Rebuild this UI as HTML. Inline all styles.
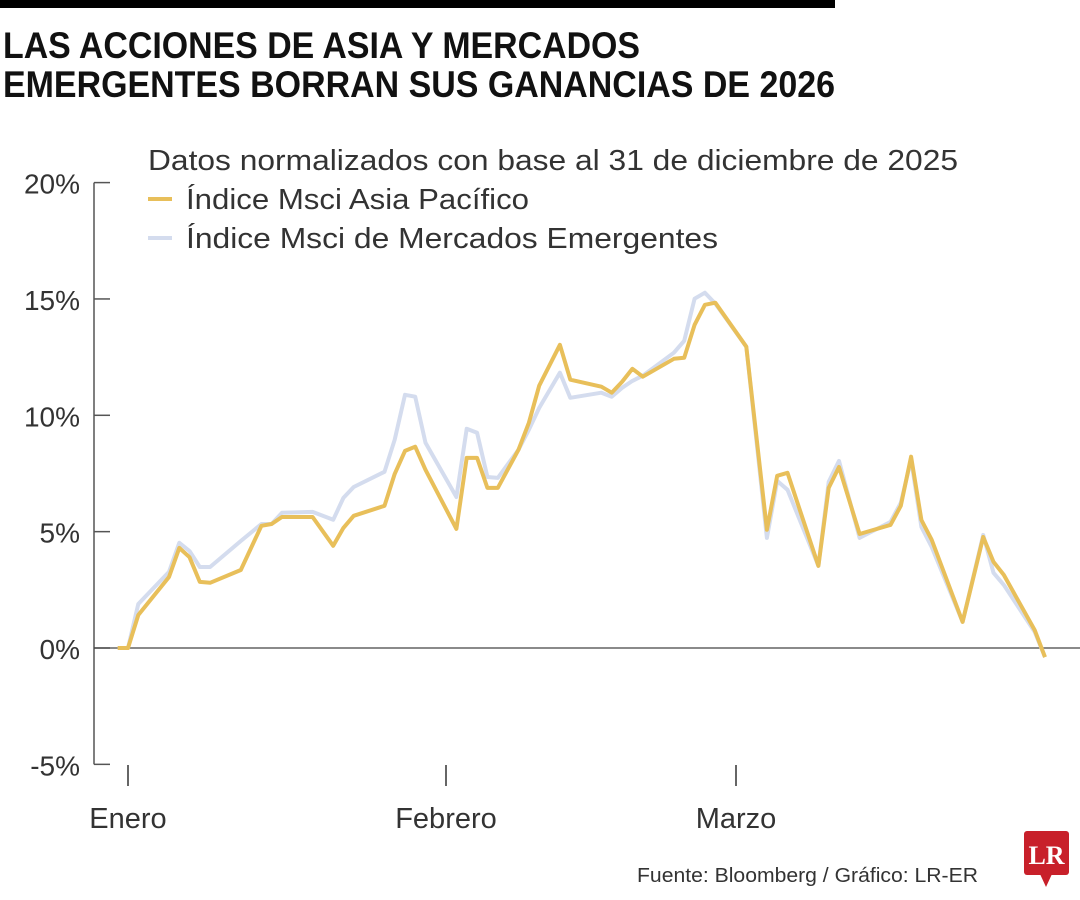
<!DOCTYPE html>
<html><head><meta charset="utf-8"><style>
html,body{margin:0;padding:0;background:#fff;}
svg{display:block;font-family:"Liberation Sans",sans-serif;}
</style></head><body>
<svg id="chart" width="1080" height="900" viewBox="0 0 1080 900">
<rect x="0" y="0" width="835" height="8" fill="#000"/>
<text x="3" y="58" font-size="37" font-weight="bold" fill="#111" textLength="637" lengthAdjust="spacingAndGlyphs">LAS ACCIONES DE ASIA Y MERCADOS</text>
<text x="3" y="97" font-size="37" font-weight="bold" fill="#111" textLength="832" lengthAdjust="spacingAndGlyphs">EMERGENTES BORRAN SUS GANANCIAS DE 2026</text>
<text x="148" y="170" font-size="29" fill="#333" textLength="810" lengthAdjust="spacingAndGlyphs">Datos normalizados con base al 31 de diciembre de 2025</text>
<line x1="148" y1="199" x2="172" y2="199" stroke="#e8bf5a" stroke-width="4"/>
<text x="186" y="209" font-size="29" fill="#333" textLength="343" lengthAdjust="spacingAndGlyphs">Índice Msci Asia Pacífico</text>
<line x1="148" y1="238" x2="172" y2="238" stroke="#d4dcee" stroke-width="4"/>
<text x="186" y="248" font-size="29" fill="#333" textLength="532" lengthAdjust="spacingAndGlyphs">Índice Msci de Mercados Emergentes</text>
<g id="axes"></g>
<g id="series"></g>
<text x="637" y="882" font-size="20" fill="#333" textLength="341" lengthAdjust="spacingAndGlyphs">Fuente: Bloomberg / Gráfico: LR-ER</text>
<g>
<rect x="1024" y="831" width="45" height="44" rx="3" fill="#c8202a"/>
<polygon points="1040,874 1052,874 1046,887" fill="#c8202a"/>
<text x="1046.5" y="864" font-size="26" font-weight="bold" fill="#fff" text-anchor="middle" font-family="Liberation Serif,serif">LR</text>
</g>
</svg>
<script>
const dates = [-1,0,1,4,5,6,7,8,11,13,14,15,18,20,21,22,25,26,27,28,29,32,33,34,35,36,38,39,40,42,43,46,47,48,49,50,53,54,55,56,57,60,62,63,64,67,68,69,71,74,75,76,77,78,81,83,84,85,88,89];
const asiaPacifico = [0,0,1.42,3.05,4.3,3.9,2.84,2.8,3.35,5.25,5.33,5.63,5.63,4.39,5.16,5.68,6.11,7.48,8.47,8.65,7.66,5.12,8.17,8.17,6.88,6.88,8.52,9.68,11.27,13.03,11.53,11.23,10.97,11.44,12.0,11.66,12.43,12.47,13.89,14.75,14.84,12.95,5.08,7.4,7.53,3.53,6.88,7.78,4.9,5.29,6.11,8.22,5.5,4.65,1.12,4.77,3.7,3.14,0.77,-0.39];
const emergentes = [0,0,1.89,3.27,4.52,4.17,3.48,3.48,4.6,5.33,5.33,5.81,5.85,5.51,6.45,6.92,7.57,8.95,10.88,10.8,8.82,6.49,9.42,9.25,7.35,7.31,8.52,9.38,10.32,11.83,10.75,10.97,10.8,11.18,11.48,11.7,12.69,13.2,15.01,15.27,14.8,12.95,4.73,7.18,6.8,3.53,7.14,8.04,4.73,5.42,6.24,8.09,5.2,4.34,1.12,4.86,3.23,2.71,0.69,-0.39];
const yTicks = [20,15,10,5,0,-5];
const yTickLabels = ["20%","15%","10%","5%","0%","-5%"];
const monthDays = [0,31,59];
const monthLabels = ["Enero","Febrero","Marzo"];

const NS="http://www.w3.org/2000/svg";
function x(d){ return d<=31 ? 128+d*(318/31) : (d<=59 ? 446+(d-31)*(290/28) : 736+(d-59)*10.3); }
function y(v){ return 648-v*23.27; }
function mk(tag,attrs,parent){const e=document.createElementNS(NS,tag);for(const k in attrs)e.setAttribute(k,attrs[k]);parent.appendChild(e);return e;}
const axes=document.getElementById('axes');
let el=mk('line',{x1:94,y1:y(20),x2:94,y2:y(-5),stroke:'#555','stroke-width':1.5},axes);


yTicks.forEach((t,i)=>{
  const tk=mk('line',{x1:94,y1:y(t),x2:110,y2:y(t),stroke:'#555','stroke-width':1.5},axes);
  
  
  const tx=mk('text',{x:80,y:y(t)+11,'font-size':28,fill:'#333','text-anchor':'end'},axes);
  tx.textContent=yTickLabels[i];
  
  
});
el=mk('line',{x1:94,y1:y(0),x2:1080,y2:y(0),stroke:'#444','stroke-width':1.3},axes);


monthDays.forEach((d,i)=>{
  const tk=mk('line',{x1:x(d),y1:765,x2:x(d),y2:786,stroke:'#333','stroke-width':1.5},axes);
  
  
  const tx=mk('text',{x:x(d),y:828,'font-size':29,fill:'#333','text-anchor':'middle'},axes);
  tx.textContent=monthLabels[i];
  
  
});
const series=document.getElementById('series');
function pts(vals){return dates.map((d,i)=>x(d).toFixed(1)+','+y(vals[i]).toFixed(1)).join(' ');}
el=mk('polyline',{points:pts(emergentes),fill:'none',stroke:'#d4dcee','stroke-width':4,'stroke-linejoin':'round'},series);


el=mk('polyline',{points:pts(asiaPacifico),fill:'none',stroke:'#e8bf5a','stroke-width':4,'stroke-linejoin':'round'},series);


</script>
</body></html>
